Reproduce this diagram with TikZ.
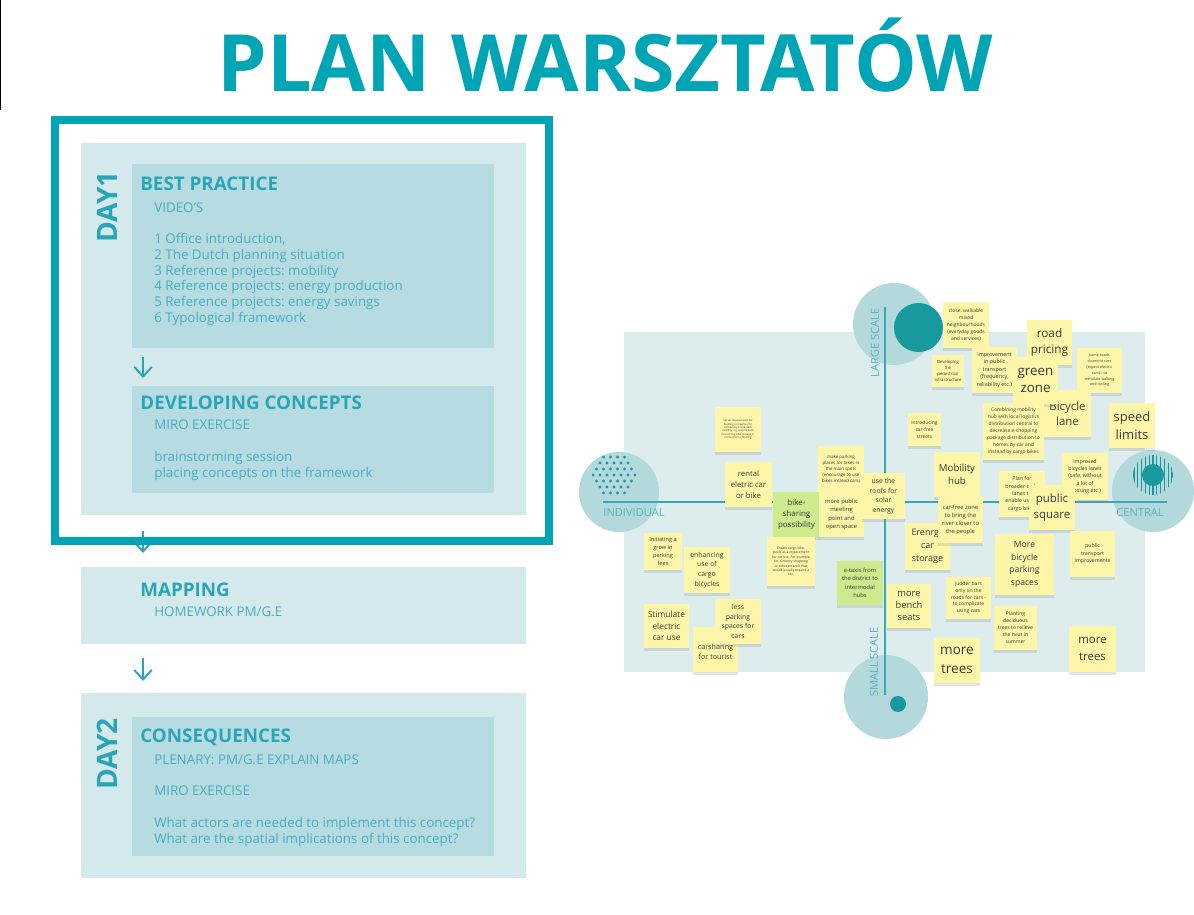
\documentclass[tikz,border=0pt]{standalone}
\usepackage{graphicx}
\usepackage{fontspec}
\setmainfont{Open Sans}
\usetikzlibrary{arrows.meta,shadows}
\frenchspacing

\definecolor{planteal}{HTML}{00A5B5}
\definecolor{headteal}{HTML}{2AA5B8}
\definecolor{bodyteal}{HTML}{45AEBF}
\definecolor{dayfill}{HTML}{D4E9EC}
\definecolor{stepfill}{HTML}{B6DCE2}
\definecolor{boardfill}{HTML}{DDEDEE}
\definecolor{ringfill}{HTML}{B4D9DC}
\definecolor{ringdark}{HTML}{18999E}
\definecolor{axisteal}{HTML}{36A9B4}
\definecolor{labelteal}{HTML}{55B3BD}
\definecolor{stickyyellow}{HTML}{FDF6A8}
\definecolor{stickygreen}{HTML}{CBEB8C}
\definecolor{stickytext}{HTML}{3B3B3B}

\tikzset{
    daybox/.style={fill=dayfill, anchor=north west, inner sep=0pt, minimum width=8.9cm},
    stepbox/.style={fill=stepfill, anchor=north west, inner sep=0pt, minimum width=7.24cm},
    heading/.style={anchor=west, inner sep=0pt, text=headteal, font=\fontsize{10.7}{13}\selectfont\bfseries},
    body/.style={anchor=west, inner sep=0pt, text=bodyteal, align=left, font=\fontsize{7.6}{9.1}\selectfont},
    daylabel/.style={rotate=90, inner sep=0pt, text=headteal, font=\fontsize{16}{16}\selectfont\bfseries},
    flow/.style={draw=headteal, line width=1.1pt, -{Straight Barb[length=5.5pt,width=10pt]}},
    axis/.style={draw=axisteal, line width=1.1pt},
    axislabel/.style={text=labelteal, inner sep=0pt, font=\fontsize{6.3}{7}\selectfont},
    note/.style={fill=stickyyellow, text=stickytext, align=center, inner sep=0pt,
        drop shadow={shadow xshift=0pt, shadow yshift=-1.6pt, opacity=0.22}},
    greennote/.style={note, fill=stickygreen},
    sz/.style 2 args={minimum width=#1*0.02cm, minimum height=#2*0.02cm},
    fs/.style 2 args={font=\fontsize{#1}{#2}\selectfont}
}

\begin{document}
\begin{tikzpicture}[x=0.02cm,y=-0.02cm]
    % Page
    \fill[white] (0,0) rectangle (1194,915);
    \useasboundingbox (0,0) rectangle (1194,915);
    \draw[black, line width=0.6pt] (0.5,0) -- (0.5,110);

    % Title
    \node[anchor=base, text=planteal, font=\fontsize{45}{45}\selectfont\bfseries] (title) at (605,92)
        {PLAN WARSZTATÓW};

    % Day boxes and steps
    \node[daybox, minimum height=7.44cm] (day1) at (81,143) {};
    \node[stepbox, minimum height=3.68cm] (practice) at (132,164) {};
    \node[stepbox, minimum height=2.14cm] (concepts) at (132,386) {};
    \node[daybox, minimum height=1.54cm] (mapping) at (81,567) {};
    \node[daybox, minimum height=3.7cm] (day2) at (81,693) {};
    \node[stepbox, minimum height=2.78cm] (consequences) at (132,717) {};

    \node[daylabel] (day1lbl) at (107,207) {DAY1};
    \node[daylabel] (day2lbl) at (107,754) {DAY2};

    \node[heading] (practicehd) at (140,183.5) {BEST PRACTICE};
    \node[body] (practicesub) at (154,208) {VIDEO'S};
    \node[body] (practicelist) at (154,279.5) {1 Office introduction,\\
        2 The Dutch planning situation\\
        3 Reference projects: mobility\\
        4 Reference projects: energy production\\
        5 Reference projects: energy savings\\
        6 Typological framework};

    \node[heading] (conceptshd) at (140,402.5) {DEVELOPING CONCEPTS};
    \node[body] (conceptssub) at (154,424.5) {MIRO EXERCISE};
    \node[body] (conceptslist) at (154,466) {brainstorming session\\placing concepts on the framework};

    \node[heading] (mappinghd) at (140,590) {MAPPING};
    \node[body] (mappingsub) at (154,612) {HOMEWORK PM/G.E};

    \node[heading] (consequenceshd) at (140,737) {CONSEQUENCES};
    \node[body] (consequencessub) at (154,759.5) {PLENARY: PM/G.E EXPLAIN MAPS};
    \node[body] (consequencesmiro) at (154,791) {MIRO EXERCISE};
    \node[body] (consequenceslist) at (154,832) {What actors are needed to implement this concept?\\
        What are the spatial implications of this concept?};

    % Arrows between the steps
    \coordinate (flowx) at (143,0);
    \draw[flow, shorten <=0.16cm, shorten >=0.16cm] (practice.south -| flowx) -- (concepts.north -| flowx);
    \draw[flow, shorten <=0.3cm, shorten >=0.28cm] (day1.south -| flowx) -- (mapping.north -| flowx);
    \draw[flow, shorten <=0.26cm, shorten >=0.24cm] (mapping.south -| flowx) -- (day2.north -| flowx);

    % Frame round day 1
    \draw[planteal, line width=4.5pt] (55,120) rectangle (549,541);

    % Board
    \fill[boardfill] (624,332) rectangle (1145,672);
    \fill[ringfill] (894,324) circle (41);
    \fill[ringfill] (619,492) circle (40);
    \fill[ringfill] (1153,491) circle (41);
    \fill[ringfill] (886,697) circle (42);
    \fill[ringdark] (918.5,327.5) circle (24.5);
    \fill[ringdark] (898,704) circle (8);

    % Dotted disc
    \begin{scope}
        \clip (614,475) circle (22);
        \foreach \row in {-3,...,3}
            \foreach \col in {-4,...,3}
                \fill[ringdark] ({614+\col*7+mod(abs(\row),2)*3.5},{475+\row*6}) circle (1.6);
    \end{scope}

    % Striped disc
    \begin{scope}
        \clip (1153,475) circle (20);
        \foreach \k in {-5,...,5}
            \draw[ringdark, line width=0.7pt] ({1153+\k*3.8},450) -- ({1153+\k*3.8},500);
    \end{scope}
    \fill[ringdark] (1153,475) circle (11);

    % Axes
    \draw[axis] (603,502) -- (1167,502);
    \draw[axis] (885,307) -- (885,695);
    \node[axislabel] (individual) at (634,513) {INDIVIDUAL};
    \node[axislabel] (central) at (1140,513) {CENTRAL};
    \node[axislabel, rotate=90] (largescale) at (875,343) {LARGE SCALE};
    \node[axislabel, rotate=90] (smallscale) at (874,662) {SMALL SCALE};

    % Sticky notes, left half
    \node[note, sz={38}{37}, fs={3.2}{4.55}] (fees) at (663,551.5) {Initiating a\\ grow in\\ parking\\ fees};
    \node[note, sz={46}{46}, fs={3.9}{5.6}] (cargobikes) at (707,570) {enhancing\\ use of\\ cargo\\ bicycles};
    \node[note, sz={45}{44}, fs={4.75}{6.6}] (electric) at (666.5,626) {Stimulate\\ electric\\ car use};
    \node[note, sz={45}{45}, fs={4.1}{5.7}] (carsharing) at (715.5,649.5) {\\ carsharing\\ for tourist};
    \node[note, sz={46}{45}, fs={3.9}{5.5}] (lessparking) at (738,621.5) {less\\ parking\\ spaces for\\ cars};
    \node[note, sz={46}{45}, fs={1.5}{1.9}] (requirements) at (738,429.5) {Set up requirements for\\ building companies for\\ stimulating sustainable\\ mobility, e.g. require both\\ functioning bike storage in\\ connection to housing};
    \node[note, sz={47}{45}, fs={4.4}{6.1}] (rental) at (748.5,484.5) {rental\\ eletric car\\ or bike};
    \node[note, sz={46}{46}, fs={2.5}{3.5}] (bikeplaces) at (841,469) {make parking\\ places for bikes in\\ the main spots\\ (encourage to use\\ bikes instead cars)};
    \node[greennote, sz={47}{45}, fs={4.5}{6.2}] (bikeshare) at (796.5,514.5) {bike-\\ sharing\\ possibility};
    \node[note, sz={45}{45}, fs={3.35}{4.6}] (meeting) at (841.5,514.5) {more public\\ meeting\\ point and\\ open space};
    \node[note, sz={43}{46}, fs={3.9}{5.4}] (solar) at (883.5,496) {use the\\ roofs for\\ solar\\ energy};
    \node[note, sz={48}{49}, fs={1.9}{2.5}] (cargopool) at (791,561.5) {Create cargo bike-\\ pools as a replacement\\ for car use. For example\\ for: Grocery shopping\\ or other errands that\\ would usually require a\\ car.};
    \node[greennote, sz={46}{44}, fs={3.3}{4.8}] (etaxi) at (860,583) {e-taxis from\\ the district to\\ intermodal\\ hubs};

    % Sticky notes, right half
    \node[note, sz={46}{46}, fs={2.8}{4}] (walkable) at (966,325) {close, walkable\\ mixed\\ neighbourhoods\\ (everyday goods\\ and services)};
    \node[note, sz={32}{32}, fs={2.4}{3.3}] (pedestrian) at (948,371) {Developing\\ the\\ pedestrian\\ infrastructure};
    \node[note, sz={45}{46}, fs={3.1}{4.2}] (transport) at (994.5,370) {improvement\\ in public\\ transport\\ (frequency,\\ reliability etc.)};
    \node[note, sz={45}{45}, fs={6.7}{8.9}] (pricing) at (1049.5,342.5) {road\\ pricing};
    \node[note, sz={45}{45}, fs={2.1}{3.3}] (closed) at (1099.5,370.5) {some roads\\ closed to cars\\ (expect electric\\ cars) -- to\\ stimulate walking\\ and cycling};
    \node[note, sz={47}{47}, fs={6.5}{8.7}] (bicyclelane) at (1067.5,413.5) {Bicycle\\ lane};
    \node[note, sz={45}{47}, fs={7.6}{9.9}] (greenzone) at (1035.5,380.5) {green\\ zone};
    \node[note, sz={33}{33}, fs={2.8}{3.8}] (carfree) at (924.5,429.5) {Introducing\\ car-free\\ streets};
    \node[note, sz={61}{57}, fs={2.8}{4}] (logistics) at (1013.5,431.5) {Combining mobility\\ hub with local logistics\\ distribution central to\\ decrease e-shopping\\ package distribution to\\ homes by car and\\ instead by cargo bikes};
    \node[note, sz={46}{45}, fs={7.4}{10}] (speed) at (1132,425.5) {speed\\ limits};
    \node[note, sz={46}{45}, fs={5.5}{7.2}] (mobhub) at (957,474.5) {Mobility\\ hub};
    \node[note, sz={46}{47}, fs={3}{4.2}] (improved) at (1085,476.5) {improved\\ bicycles lanes\\ (safe, without\\ a lot of\\ crossing etc.)};
    \node[note, sz={46}{46}, fs={3}{4.2}] (cyclelanes) at (1022,494) {Plan for\\ broader cycle\\ lanes to\\ enable use of\\ cargo bikes};
    \node[note, sz={46}{45}, fs={6.5}{8.9}] (square) at (1052,507.5) {public\\ square};
    \node[note, sz={45}{47}, fs={5.1}{7.4}] (storage) at (927.5,546.5) {Erenrgy\\ car\\ storage};
    \node[note, sz={45}{46}, fs={3.3}{4.6}] (river) at (960.5,520) {car-free zone\\ to bring the\\ river closer to\\ the people};
    \node[note, sz={59}{61}, fs={4.9}{7.1}] (bikeparking) at (1024.5,564.5) {More\\ bicycle\\ parking\\ spaces};
    \node[note, sz={45}{46}, fs={3}{4.2}] (pubtrans) at (1092.5,554) {public\\ transport\\ improvements};
    \node[note, sz={45}{42}, fs={2.85}{3.8}] (judder) at (968.5,598) {judder bars\\ only on the\\ roads for cars -\\ to complicate\\ using cars};
    \node[note, sz={44}{44}, fs={5.3}{6.6}] (bench) at (909,606) {more\\ bench\\ seats};
    \node[note, sz={43}{44}, fs={2.9}{4}] (planting) at (1015.5,628) {Planting\\ deciduous\\ trees to relieve\\ the heat in\\ summer};
    \node[note, sz={46}{45}, fs={7.7}{10.8}] (trees) at (957,660.5) {more\\ trees};
    \node[note, sz={47}{46}, fs={6.5}{10}] (trees2) at (1092.5,649) {more\\ trees};
\end{tikzpicture}
\end{document}
